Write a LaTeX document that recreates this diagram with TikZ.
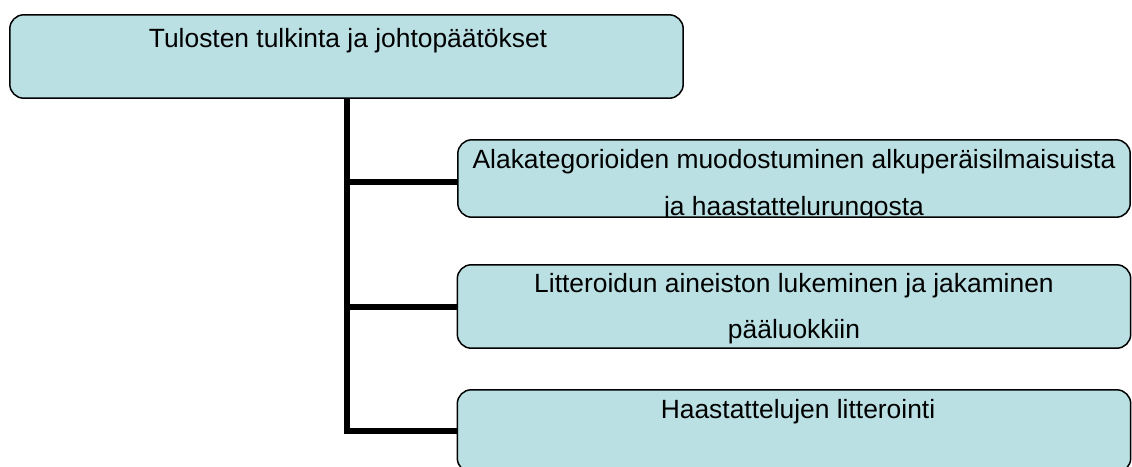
\documentclass[tikz,border=0pt]{standalone}
\usepackage{fontspec}
\setmainfont{Liberation Sans}
\definecolor{boxfill}{RGB}{186,224,227}
\begin{document}
\begin{tikzpicture}[x=1pt,y=-1pt,
  box/.style={draw=black,line width=1.5pt,fill=boxfill,rounded corners=14pt,inner sep=0pt},
  conn/.style={draw=black,line width=6pt,line join=miter},
  txt/.style={anchor=base,inner sep=0pt,font=\fontsize{26.4}{30}\selectfont}]
\clip (0,0) rectangle (1132,466);
\useasboundingbox (0,0) rectangle (1132,466);
% boxes (geometry)
\coordinate (c0) at (346.5,56.5);
\coordinate (c1) at (794,178.5);
\coordinate (c2) at (794,306.5);
\coordinate (c3) at (794,431);
\node[minimum width=673pt,minimum height=83pt,inner sep=0pt] (top) at (c0) {};
\node[minimum width=672pt,minimum height=77pt,inner sep=0pt] (b1) at (c1) {};
\node[minimum width=673pt,minimum height=83pt,inner sep=0pt] (b2) at (c2) {};
\node[minimum width=673pt,minimum height=82pt,inner sep=0pt] (b3) at (c3) {};
% connectors drawn first
\draw[conn] (top.south) |- (b3.west);
\draw[conn] (top.south |- b1.west) ++(0,3.5) -- ([yshift=-3.5pt]b1.west);
\draw[conn] (top.south |- b2.west) -- (b2.west);
% boxes
\draw[box] (top.south west) rectangle (top.north east);
\draw[box] (b1.south west) rectangle (b1.north east);
\draw[box] (b2.south west) rectangle (b2.north east);
\draw[box] (b3.south west) rectangle (b3.north east);
% texts
\node[txt] (t0) at (348,47) {Tulosten tulkinta ja johtopäätökset};
\begin{scope}
\clip[rounded corners=14pt] ([shift={(0.75pt,-0.75pt)}]b1.south west) rectangle ([shift={(-0.75pt,0.75pt)}]b1.north east);
\node[txt] (t1a) at (794,168) {Alakategorioiden muodostuminen alkuperäisilmaisuista};
\node[txt] (t1b) at (794,215) {ja haastattelurungosta};
\end{scope}
\node[txt] (t2a) at (794,292) {Litteroidun aineiston lukeminen ja jakaminen};
\node[txt] (t2b) at (794,338) {pääluokkiin};
\node[txt] (t3) at (798,418) {Haastattelujen litterointi};
\end{tikzpicture}
\end{document}
